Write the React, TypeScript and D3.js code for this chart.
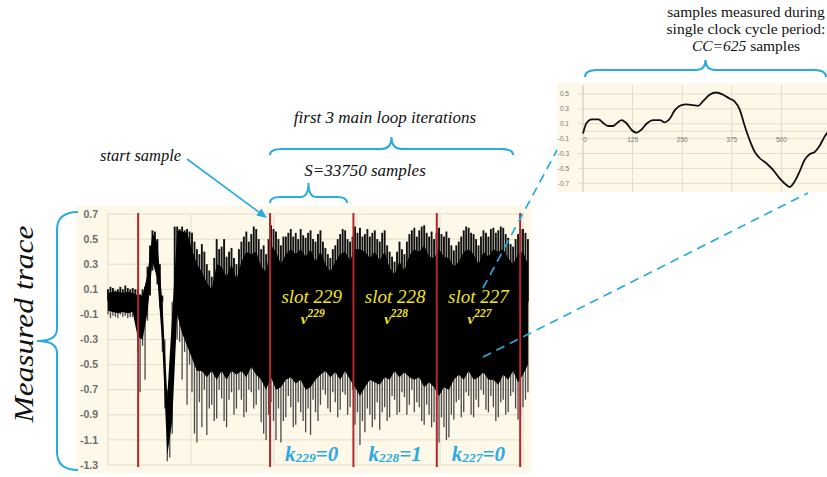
import React from 'react';
import * as d3 from 'd3';

// measured trace: spike extremes every 1000 samples
const spikeStep = 1000;
const traceHi = [0.10, 0.12, 0.11, 0.09, 0.10, 0.12, 0.10, 0.13, 0.11, 0.10, 0.11, 0.10, 0.10, 0.06, 0.10, 0.12, 0.28, 0.45, 0.57, 0.56,
  0.50, 0.30, 0.05, -0.30, -0.70, -0.72, 0.00, 0.60, 0.60, 0.58, 0.60, 0.57, 0.58, 0.56, 0.55, 0.48, 0.42, 0.38, 0.46, 0.40,
  0.30, 0.25, 0.20, 0.35, 0.50, 0.42, 0.44, 0.50, 0.36, 0.40, 0.43, 0.35, 0.30, 0.42, 0.48, 0.52, 0.56, 0.48, 0.54, 0.60,
  0.58, 0.50, 0.42, 0.45, 0.38, 0.50, 0.61, 0.58, 0.56, 0.50, 0.45, 0.52, 0.52, 0.55, 0.58, 0.52, 0.55, 0.50, 0.58, 0.53,
  0.51, 0.55, 0.57, 0.50, 0.48, 0.54, 0.57, 0.48, 0.43, 0.38, 0.35, 0.42, 0.45, 0.50, 0.54, 0.58, 0.57, 0.50, 0.48, 0.52,
  0.60, 0.55, 0.59, 0.52, 0.54, 0.58, 0.52, 0.55, 0.57, 0.50, 0.48, 0.55, 0.57, 0.45, 0.40, 0.36, 0.32, 0.40, 0.48, 0.42,
  0.38, 0.48, 0.54, 0.57, 0.59, 0.52, 0.57, 0.60, 0.61, 0.55, 0.52, 0.56, 0.50, 0.55, 0.59, 0.54, 0.52, 0.56, 0.51, 0.45,
  0.41, 0.45, 0.48, 0.52, 0.57, 0.60, 0.59, 0.55, 0.54, 0.50, 0.45, 0.52, 0.57, 0.55, 0.52, 0.58, 0.59, 0.55, 0.57, 0.60,
  0.59, 0.54, 0.51, 0.46, 0.44, 0.50, 0.54, 0.58, 0.58, 0.55, 0.50];
const traceLo = [-0.10, -0.13, -0.11, -0.12, -0.13, -0.10, -0.12, -0.11, -0.13, -0.12, -0.12, -0.11, -0.40, -0.72, -0.35, -0.62, -0.15, 0.05, 0.25, 0.32,
  0.14, -0.05, -0.40, -0.85, -1.27, -1.24, -1.05, -0.35, -0.30, -0.32, -0.62, -0.40, -0.82, -0.50, -0.72, -1.05, -1.12, -0.80, -1.00, -0.70,
  -1.06, -0.85, -0.82, -0.95, -0.93, -0.70, -0.77, -0.95, -1.00, -0.78, -0.72, -0.90, -0.85, -0.70, -0.78, -0.92, -0.88, -0.70, -0.72, -0.85,
  -0.82, -0.70, -0.96, -1.05, -1.10, -0.90, -0.80, -0.95, -1.10, -0.85, -1.12, -0.95, -0.92, -0.75, -0.84, -1.00, -0.98, -0.80, -0.88, -0.95,
  -1.04, -0.85, -1.06, -0.78, -0.88, -0.95, -0.82, -0.70, -0.74, -0.85, -0.88, -0.72, -0.80, -0.92, -0.86, -0.72, -0.74, -0.90, -0.84, -0.70,
  -0.98, -0.88, -1.14, -0.95, -1.04, -0.85, -0.90, -1.00, -0.94, -0.80, -1.02, -0.88, -0.84, -0.95, -0.92, -0.75, -0.78, -0.90, -0.88, -0.72,
  -0.76, -0.90, -0.82, -0.70, -0.88, -0.80, -0.84, -0.95, -0.98, -0.82, -0.90, -1.00, -0.96, -0.85, -1.12, -0.92, -1.00, -1.10, -1.08, -0.90,
  -0.94, -0.80, -0.78, -0.92, -0.88, -0.72, -0.75, -0.90, -0.92, -0.78, -0.84, -0.70, -0.74, -0.86, -0.88, -0.75, -0.84, -0.95, -0.92, -0.80,
  -0.78, -0.90, -0.88, -0.75, -0.72, -0.85, -0.94, -0.90, -0.84, -0.78, -0.72];

// dense core of the trace, every 2000 samples
const coreStep = 2000;
const coreHi = [0.07, 0.08, 0.08, 0.07, 0.08, 0.07, 0.05, 0.05, 0.22, 0.55, 0.47, 0.00, -0.75, -0.10, 0.57, 0.56, 0.55, 0.42, 0.30, 0.24,
  0.15, 0.10, 0.30, 0.28, 0.20, 0.30, 0.18, 0.32, 0.40, 0.38, 0.40, 0.28, 0.24, 0.45, 0.40, 0.30, 0.38, 0.42, 0.38, 0.42,
  0.36, 0.42, 0.32, 0.40, 0.30, 0.24, 0.32, 0.38, 0.40, 0.33, 0.42, 0.42, 0.40, 0.35, 0.40, 0.33, 0.40, 0.27, 0.22, 0.32,
  0.25, 0.37, 0.42, 0.40, 0.45, 0.36, 0.35, 0.42, 0.36, 0.35, 0.28, 0.32, 0.40, 0.42, 0.38, 0.30, 0.40, 0.36, 0.42, 0.40,
  0.42, 0.35, 0.30, 0.38, 0.40, 0.30];
const coreLo = [-0.07, -0.08, -0.09, -0.08, -0.09, -0.08, -0.28, -0.30, -0.08, 0.32, 0.18, -0.35, -1.22, -0.95, -0.10, -0.25, -0.35, -0.45, -0.55, -0.55,
  -0.60, -0.55, -0.62, -0.55, -0.62, -0.55, -0.58, -0.55, -0.60, -0.52, -0.58, -0.62, -0.70, -0.60, -0.70, -0.68, -0.62, -0.60, -0.65, -0.62,
  -0.70, -0.68, -0.62, -0.58, -0.55, -0.60, -0.56, -0.62, -0.55, -0.62, -0.68, -0.75, -0.68, -0.62, -0.64, -0.66, -0.60, -0.62, -0.55, -0.60,
  -0.56, -0.60, -0.62, -0.60, -0.68, -0.64, -0.68, -0.75, -0.68, -0.70, -0.62, -0.58, -0.62, -0.55, -0.62, -0.60, -0.56, -0.62, -0.62, -0.66,
  -0.58, -0.62, -0.55, -0.64, -0.58, -0.50];

const yTicks = [0.7, 0.5, 0.3, 0.1, -0.1, -0.3, -0.5, -0.7, -0.9, -1.1, -1.3];
// trigger, start sample, then one line every S = 33750 samples
const redLines = [12200, 65600, 99350, 133100, 166850];
const slots = [229, 228, 227];
const keyBits = [0, 1, 0];

// one clock cycle (zoomed inset)
const ccSamples = [0, 9, 22, 39, 51, 63, 76, 88, 97, 109, 122, 135, 147, 160, 177, 194, 206, 219, 231, 248, 260, 277, 290, 302,
  319, 336, 353, 369, 382, 395, 407, 420, 433, 445, 462, 479, 495, 512, 521, 533, 546, 558, 571, 584, 596, 609, 625];
const ccValues = [-0.03, 0.11, 0.16, 0.16, 0.11, 0.07, 0.07, 0.12, 0.15, 0.11, 0.02, -0.02, 0.02, 0.10, 0.15, 0.15, 0.12, 0.17, 0.28, 0.35, 0.36, 0.35, 0.34, 0.40,
  0.49, 0.52, 0.49, 0.44, 0.40, 0.29, 0.08, -0.12, -0.28, -0.36, -0.43, -0.52, -0.63, -0.72, -0.75, -0.68, -0.54, -0.39, -0.31, -0.28, -0.20, -0.07, 0.03];
const ccYTicks = [0.5, 0.3, 0.1, -0.1, -0.3, -0.5, -0.7];
const ccXTicks = [0, 125, 250, 375, 500];

const blue = '#29abe2';
const yellow = '#f2e41c';
const cream = '#fdf8e7';
const grid = '#e2dccd';
const serif = '"Liberation Serif", "DejaVu Serif", serif';
const sans = '"Liberation Sans", Arial, sans-serif';

function hBrace(x1: number, x2: number, yE: number, yB: number, yT: number, r: number, r2: number) {
  const m = (x1 + x2) / 2;
  return `M${x1},${yE} Q${x1},${yB} ${x1 + r},${yB} L${m - r2},${yB} Q${m},${yB} ${m},${yT} Q${m},${yB} ${m + r2},${yB} L${x2 - r},${yB} Q${x2},${yB} ${x2},${yE}`;
}

function vBrace(y1: number, y2: number, xE: number, xB: number, xT: number, r: number, r2: number) {
  const m = (y1 + y2) / 2;
  return `M${xE},${y1} Q${xB},${y1} ${xB},${y1 + r} L${xB},${m - r2} Q${xB},${m} ${xT},${m} Q${xB},${m} ${xB},${m + r2} L${xB},${y2 - r} Q${xB},${y2} ${xE},${y2}`;
}

export default function App() {
  const x = d3.scaleLinear().domain([0, 168000]).range([108, 523]);
  const y = d3.scaleLinear().domain([-1.3, 0.7]).range([465, 214]);
  const xGrid = d3.range(0, 168001, 33600);

  const cx = d3.scaleLinear().domain([0, 625]).range([583, 831]);
  const cy = d3.scaleLinear().domain([-0.7, 0.5]).range([183.3, 94]);

  const core = d3.area<number>()
    .x((_, i) => x(i * coreStep))
    .y0((_, i) => y(coreLo[i]))
    .y1(d => y(d));

  const ccLine = d3.line<number>()
    .x((_, i) => cx(ccSamples[i]))
    .y(d => cy(d))
    .curve(d3.curveMonotoneX);

  // arrow "start sample"
  const a0 = [187, 159], a1 = [267, 218];
  const ang = Math.atan2(a1[1] - a0[1], a1[0] - a0[0]);
  const head = [
    a1,
    [a1[0] - 11 * Math.cos(ang - 0.4), a1[1] - 11 * Math.sin(ang - 0.4)],
    [a1[0] - 11 * Math.cos(ang + 0.4), a1[1] - 11 * Math.sin(ang + 0.4)],
  ].map(p => p.join(',')).join(' ');

  return (
    <svg width={827} height={477} style={{ position: 'absolute', left: 0, top: 0, background: '#fff' }}>
      {/* main chart */}
      <rect x={76} y={206} width={455} height={267} fill={cream} />
      {yTicks.map(t => (
        <line key={'h' + t} x1={108} x2={523} y1={y(t)} y2={y(t)} stroke={grid} strokeWidth={1} />
      ))}
      {xGrid.map(t => (
        <line key={'v' + t} x1={x(t)} x2={x(t)} y1={y(0.7)} y2={y(-1.3)} stroke={grid} strokeWidth={1} />
      ))}
      {yTicks.map(t => (
        <text key={'t' + t} x={98} y={y(t)} dy="0.35em" textAnchor="end" fontFamily={sans} fontSize={10.5}
          fontWeight="bold" fill="#6d6d6d">{t.toFixed(1)}</text>
      ))}

      {/* spikes: upper half dark, lower half lighter grey */}
      {traceHi.map((h, i) => {
        const xi = x(i * spikeStep);
        const mid = Math.min(Math.max(0, traceLo[i]), h);
        return (
          <g key={'s' + i}>
            <line x1={xi} x2={xi} y1={y(h)} y2={y(mid)} stroke="#111" strokeWidth={1.9} />
            <line x1={xi} x2={xi} y1={y(mid)} y2={y(traceLo[i])} stroke="#4a4a4a" strokeWidth={1.3} />
          </g>
        );
      })}
      <path d={core(coreHi) || ''} fill="#000" />

      {redLines.map(r => (
        <line key={'r' + r} x1={x(r)} x2={x(r)} y1={y(0.7) - 1} y2={y(-1.3) + 2} stroke="#b3262c" strokeWidth={2} />
      ))}

      {slots.map((s, i) => {
        const c = (x(redLines[i + 1]) + x(redLines[i + 2])) / 2;
        return (
          <g key={'slot' + s}>
            <text x={c} y={303} textAnchor="middle" fontFamily={serif} fontStyle="italic" fontSize={19} fill={yellow}>
              slot {s}
            </text>
            <text x={c + 1} y={324} textAnchor="middle" fontFamily={serif} fontStyle="italic" fontWeight="bold" fill={yellow}>
              <tspan fontSize={15}>v</tspan>
              <tspan fontSize={11.5} dy={-7}>{s}</tspan>
            </text>
            <text x={c} y={461} textAnchor="middle" fontFamily={serif} fontStyle="italic" fontWeight="bold" fill={blue} fontSize={21}>
              <tspan>k</tspan>
              <tspan fontSize={13.5} dy={1}>{s}</tspan>
              <tspan dy={-1}>={keyBits[i]}</tspan>
            </text>
          </g>
        );
      })}

      {/* inset: one clock cycle */}
      <rect x={557} y={83} width={270} height={109} fill={cream} />
      {ccYTicks.map(t => (
        <line key={'ch' + t} x1={578} x2={827} y1={cy(t)} y2={cy(t)} stroke={grid} strokeWidth={1} />
      ))}
      {ccXTicks.map(t => (
        <line key={'cv' + t} x1={cx(t)} x2={cx(t)} y1={85} y2={192} stroke={t === 0 ? '#c9c3b5' : grid} strokeWidth={1} />
      ))}
      <line x1={583} x2={827} y1={cy(0)} y2={cy(0)} stroke="#d6d0c2" strokeWidth={0.8} />
      {ccYTicks.map(t => (
        <text key={'cyt' + t} x={569} y={cy(t)} dy="0.35em" textAnchor="end" fontFamily={sans} fontSize={6.5} fill="#777">
          {t.toFixed(1)}
        </text>
      ))}
      {ccXTicks.map(t => (
        <text key={'cxt' + t} x={cx(t) + (t === 0 ? 2 : 0)} y={cy(0) + 9} dy="0.35em" textAnchor="middle" fontFamily={sans}
          fontSize={6.5} fill="#777">{t}</text>
      ))}
      <path d={ccLine(ccValues) || ''} fill="none" stroke="#111" strokeWidth={1.8} />

      {/* braces, arrows, dashed links */}
      <g fill="none" stroke={blue} strokeWidth={2}>
        <path d={hBrace(585, 826, 77, 70, 60, 12, 10)} />
        <path d={hBrace(270, 513, 155, 149, 137, 12, 10)} />
        <path d={hBrace(270, 347, 203, 197, 183, 10, 8)} />
        <path d={vBrace(212, 470, 78, 57, 37, 18, 12)} />
        <line x1={a0[0]} y1={a0[1]} x2={a1[0] - 6 * Math.cos(ang)} y2={a1[1] - 6 * Math.sin(ang)} strokeWidth={1.6} />
        <line x1={483} y1={288} x2={557} y2={150} strokeDasharray="9,6" strokeWidth={1.7} />
        <line x1={483} y1={357} x2={808} y2={193} strokeDasharray="9,6" strokeWidth={1.7} />
      </g>
      <polygon points={head} fill={blue} />

      {/* texts */}
      <g fontFamily={serif} fill="#111">
        <text x={746} y={17} textAnchor="middle" fontSize={15.5}>samples measured during</text>
        <text x={746} y={34} textAnchor="middle" fontSize={15.5}>single clock cycle period:</text>
        <text x={746} y={51} textAnchor="middle" fontSize={15.5}>
          <tspan fontStyle="italic">CC=625</tspan> samples
        </text>
        <text x={385} y={123} textAnchor="middle" fontSize={17} fontStyle="italic">first 3 main loop iterations</text>
        <text x={100} y={161} fontSize={16.5} fontStyle="italic">start sample</text>
        <text x={365} y={176} textAnchor="middle" fontSize={17} fontStyle="italic">S=33750 samples</text>
        <text transform="translate(33,324) rotate(-90)" textAnchor="middle" fontSize={27} fontStyle="italic"
          textLength={197} lengthAdjust="spacingAndGlyphs">Measured trace</text>
      </g>
    </svg>
  );
}
